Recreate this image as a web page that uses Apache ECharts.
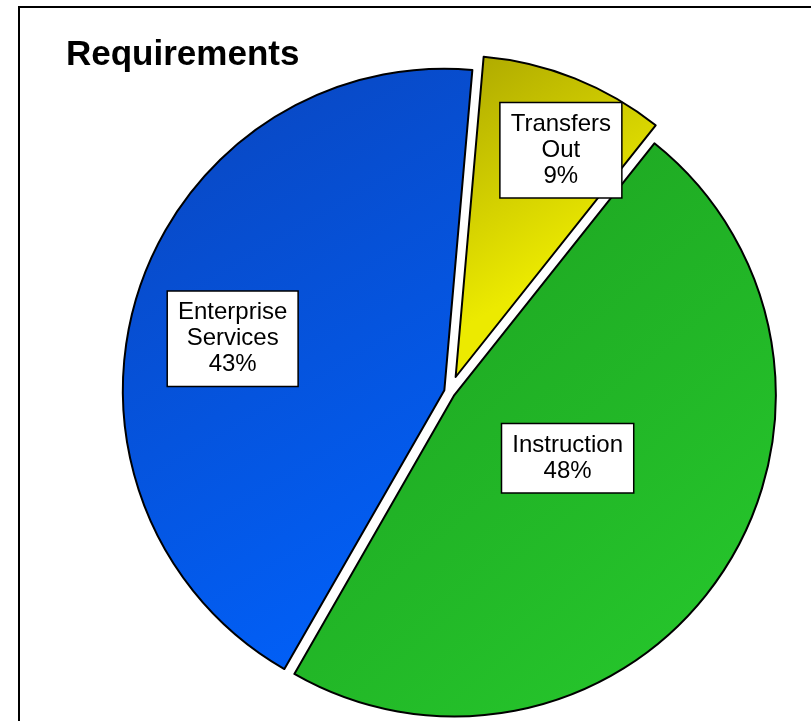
<!DOCTYPE html>
<html>
<head>
<meta charset="utf-8">
<title>Requirements</title>
<script src="https://cdn.jsdelivr.net/npm/echarts@6/dist/echarts.min.js"></script>
<style>
  html, body { margin: 0; padding: 0; background: #fff; }
  #chart { width: 811px; height: 721px; }
</style>
</head>
<body>
<div id="chart"></div>
<script>
// Budget requirements by category (share of total, %)
const categories = ['Transfers\nOut', 'Instruction', 'Enterprise\nServices'];
const shares = [9.3, 47.6, 43.1];

// Fill gradients per category: [dark corner, bright corner, where the bright tone is reached]
const sliceColors = [
  ['#aca700', '#ecea00', 0.62],
  ['#1c9e20', '#27cb2d', 1],
  ['#0a45bd', '#0063ff', 1]
];

// Layout settings
const CENTER = [0.5545, 0.5435];
const RADIUS = 321.5;
const START_ANGLE = 85;
// label placement: [angle clockwise from 12 o'clock, distance as a fraction of radius]
const LABEL_POLAR = [[24.7, 0.8275], [119.4, 0.421], [283.75, 0.695]];
const OFFSET_MAIN = 5.6;                       // explode offset for the larger slices
const OFFSET_SMALL = 16;                       // explode offset for the small slice
const SMALL_INDEX = 0;

const chart = echarts.init(document.getElementById('chart'), null, { renderer: 'canvas' });

function gradient(i) {
  return new echarts.graphic.LinearGradient(0, 0, 1, 1, [
    { offset: 0, color: sliceColors[i][0] },
    { offset: sliceColors[i][2], color: sliceColors[i][1] },
    { offset: 1, color: sliceColors[i][1] }
  ]);
}

function buildData(visibleFn) {
  return categories.map(function (name, i) {
    const visible = visibleFn(i);
    const style = visible
      ? { color: gradient(i), borderColor: '#000', borderWidth: 2, opacity: 1 }
      : { color: 'rgba(0,0,0,0)', borderWidth: 0, opacity: 0 };
    return {
      name: name,
      value: shares[i],
      selected: visible,
      itemStyle: style,
      select: { itemStyle: style },
      label: { show: visible }
    };
  });
}

// Move each label from its default spot to its polar placement around the pie centre.
// The label later travels with its exploded slice, so that offset is taken off here.
function labelPlacer(offset) {
  return function (p) {
    const cx = chart.getWidth() * CENTER[0];
    const cy = chart.getHeight() * CENTER[1];
    const r = p.labelRect;
    const lx = r.x + r.width / 2;
    const ly = r.y + r.height / 2;
    const len = Math.sqrt((lx - cx) * (lx - cx) + (ly - cy) * (ly - cy)) || 1;
    const ux = (lx - cx) / len;
    const uy = (ly - cy) / len;
    const polar = LABEL_POLAR[p.dataIndex];
    const a = polar[0] * Math.PI / 180;
    const tx = cx + Math.sin(a) * polar[1] * RADIUS - ux * offset;
    const ty = cy - Math.cos(a) * polar[1] * RADIUS - uy * offset;
    return { dx: tx - lx, dy: ty - ly };
  };
}

const labelStyle = {
  position: 'inside',
  formatter: '{b}\n{d}%',
  color: '#000',
  fontSize: 24,
  lineHeight: 26,
  fontFamily: '"Liberation Sans", Arial, sans-serif',
  align: 'center',
  backgroundColor: '#fff',
  borderColor: '#000',
  borderWidth: 1.5,
  padding: [8, 10, 8, 10]
};

function pieSeries(visibleFn, offset) {
  return {
    type: 'pie',
    center: [(CENTER[0] * 100) + '%', (CENTER[1] * 100) + '%'],
    radius: RADIUS,
    startAngle: START_ANGLE,
    clockwise: true,
    percentPrecision: 0,
    avoidLabelOverlap: false,
    selectedMode: 'multiple',
    selectedOffset: offset,
    silent: true,
    emphasis: { disabled: true, scale: false },
    labelLine: { show: false },
    label: labelStyle,
    labelLayout: labelPlacer(offset),
    data: buildData(visibleFn)
  };
}

chart.setOption({
  animation: false,
  backgroundColor: '#fff',
  title: {
    text: 'Requirements',
    left: 66,
    top: 38,
    padding: 0,
    textStyle: {
      fontSize: 35,
      fontWeight: 'bold',
      color: '#000',
      fontFamily: '"Liberation Sans", Arial, sans-serif'
    }
  },
  graphic: [{
    type: 'rect',
    z: -10,
    silent: true,
    shape: { x: 19, y: 7, width: 1000, height: 1000 },
    style: { fill: 'none', stroke: '#000', lineWidth: 2 }
  }],
  series: [
    pieSeries(function (i) { return i !== SMALL_INDEX; }, OFFSET_MAIN),
    pieSeries(function (i) { return i === SMALL_INDEX; }, OFFSET_SMALL)
  ]
});
</script>
</body>
</html>
